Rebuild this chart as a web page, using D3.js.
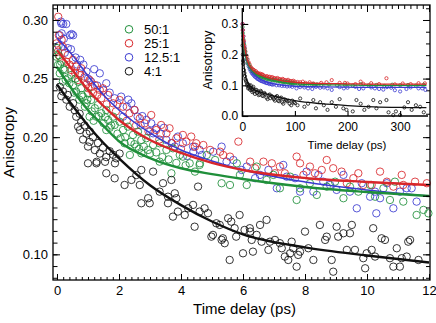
<!DOCTYPE html>
<html>
<head>
<meta charset="utf-8">
<script src="https://cdn.jsdelivr.net/npm/d3@7"></script>
<style>
  body { margin: 0; background: #fff; }
  svg { display: block; font-family: "Liberation Sans", Arial, sans-serif; }
</style>
</head>
<body>
<div id="chart"></div>
<script>
// series names + colours
const seriesNames = ["50:1", "25:1", "12.5:1", "4:1"];
const seriesColors = ["#1f8f3a", "#d8262a", "#3a3ad0", "#111111"];

// main panel, [time (ps), anisotropy]
const green = [[-0.02,0.2687],[0.0,0.276],[0.05,0.27],[0.03,0.2616],[0.14,0.2644],[0.09,0.2545],[0.25,0.2573],[0.35,0.2502],[0.19,0.2474],[0.46,0.2531],[0.52,0.2445],[0.68,0.2474],[0.62,0.2388],[0.78,0.2417],[0.84,0.2346],[1.0,0.2375],[0.95,0.2289],[1.1,0.2317],[1.22,0.2247],[1.32,0.2275],[1.43,0.2204],[1.27,0.2175],[1.59,0.2232],[1.65,0.2147],[1.81,0.2175],[1.86,0.2104],[2.02,0.2132],[2.13,0.2061],[2.29,0.209],[2.45,0.2019],[2.61,0.2047],[2.72,0.1976],[2.88,0.1991],[3.1,0.1933],[3.31,0.1948],[2.56,0.1919],[3.53,0.1891],[3.74,0.1905],[3.96,0.1848],[2.94,0.1891],[2.18,0.1948],[1.59,0.2061],[1.05,0.2175],[2.35,0.1848],[2.72,0.1862],[3.31,0.1791],[3.69,0.1692],[4.06,0.1834],[4.28,0.1777],[4.6,0.1763],[4.45,0.1706],[4.61,0.1777],[4.83,0.1848],[5.1,0.1805],[5.31,0.1607],[5.58,0.1592],[5.8,0.1777],[5.9,0.1678],[6.12,0.1592],[6.44,0.1749],[6.76,0.1635],[6.98,0.1678],[7.19,0.1564],[7.52,0.1663],[7.73,0.1464],[7.84,0.1564],[8.16,0.1607],[8.38,0.1507],[8.7,0.1578],[8.97,0.162],[9.24,0.1479],[9.45,0.1578],[9.72,0.1535],[10.1,0.1592],[10.26,0.1492],[10.53,0.1564],[10.74,0.1464],[10.9,0.162],[11.17,0.145],[11.6,0.1336],[11.82,0.1379],[11.98,0.135],
  [0.1,0.262],[0.2,0.258],[0.28,0.249],[0.4,0.246],[0.55,0.238],[0.6,0.25],[0.72,0.232],[0.8,0.236],[0.9,0.226],[0.98,0.232],[1.12,0.222],[1.18,0.214],[1.35,0.218],[1.5,0.212],[1.55,0.217],[1.7,0.208],[1.75,0.21],[1.95,0.203],[2.05,0.199],[2.2,0.2],[2.38,0.196],[2.5,0.194],[2.65,0.19],[2.8,0.192],[3.0,0.186],[3.2,0.187],[3.4,0.183],[3.6,0.181],[3.85,0.178],[4.15,0.176]];

const red = [[0.04,0.3028],[0.06,0.287],[-0.02,0.28],[0.03,0.273],[0.19,0.2772],[0.09,0.2687],[0.35,0.2701],[0.3,0.2644],[0.52,0.2659],[0.62,0.2602],[0.46,0.2573],[0.78,0.2588],[0.89,0.2516],[0.68,0.2488],[1.05,0.2488],[1.22,0.2445],[1.38,0.2403],[1.48,0.2417],[1.01,0.2417],[1.16,0.2375],[1.65,0.236],[1.43,0.2332],[1.81,0.2289],[2.02,0.2317],[2.13,0.226],[2.34,0.2204],[2.5,0.2232],[2.67,0.2161],[2.83,0.2118],[3.04,0.2189],[3.2,0.2061],[3.36,0.2104],[3.53,0.2033],[3.63,0.2076],[3.85,0.1991],[4.06,0.2019],[4.17,0.1962],[4.33,0.2005],[4.49,0.1948],[4.45,0.1919],[4.72,0.1933],[4.94,0.1891],[5.26,0.1876],[5.36,0.1848],[5.85,0.1962],[5.58,0.1834],[6.23,0.1791],[6.39,0.1735],[6.66,0.1791],[6.93,0.1777],[7.03,0.1692],[7.19,0.1749],[7.35,0.1692],[7.73,0.1834],[7.84,0.1777],[7.95,0.1678],[8.16,0.1749],[8.32,0.1692],[8.54,0.172],[8.7,0.1805],[8.91,0.1735],[9.18,0.1706],[9.35,0.1607],[9.56,0.165],[9.72,0.1692],[9.88,0.1592],[10.15,0.1592],[10.42,0.1706],[10.64,0.162],[10.85,0.1578],[11.12,0.1678],[11.17,0.1592],[11.55,0.162],[11.93,0.1607],
  [0.15,0.283],[0.4,0.262],[0.58,0.255],[0.75,0.253],[0.95,0.245],[1.12,0.243],[1.3,0.236],[1.6,0.228],[1.9,0.222],[2.25,0.214],[2.55,0.21],[2.95,0.205],[3.3,0.198],[3.7,0.195],[4.0,0.19]];

const blue = [[0.13,0.2986],[0.2,0.2966],[0.15,0.2886],[0.42,0.287],[0.47,0.288],[0.14,0.297],[0.3,0.2966],[0.09,0.287],[0.52,0.287],[0.05,0.278],[0.25,0.272],[0.35,0.276],[0.6,0.268],[0.65,0.262],[0.73,0.2545],[0.85,0.262],[0.95,0.256],[1.2,0.258],[1.38,0.2545],[1.1,0.2474],[1.59,0.246],[1.7,0.238],[1.86,0.2332],[2.07,0.2346],[2.25,0.226],[2.4,0.2289],[2.5,0.2232],[2.13,0.2175],[2.6,0.2175],[2.75,0.218],[2.88,0.2147],[3.04,0.2118],[3.2,0.2076],[3.1,0.2033],[3.35,0.203],[3.53,0.1976],[3.9,0.2005],[3.69,0.1948],[4.06,0.1948],[4.2,0.184],[4.39,0.1919],[4.6,0.1891],[4.4,0.1876],[4.67,0.1848],[5.31,0.1919],[5.04,0.1876],[5.47,0.1791],[5.69,0.1805],[5.96,0.172],[6.12,0.1749],[6.39,0.165],[6.55,0.1678],[6.82,0.172],[7.09,0.1564],[7.3,0.1763],[7.41,0.1663],[7.68,0.165],[7.84,0.1535],[8.05,0.1706],[8.27,0.1535],[8.43,0.1678],[8.59,0.162],[8.81,0.1592],[9.02,0.155],[9.24,0.1678],[9.45,0.1535],[9.67,0.1393],[9.83,0.1607],[10.1,0.1492],[10.26,0.1535],[10.3,0.135],[10.42,0.1479],[10.64,0.1607],[10.85,0.1393],[11.06,0.1535],[11.28,0.1564],[11.44,0.1564],[11.6,0.145],
  [0.22,0.284],[0.45,0.275],[0.75,0.266],[1.0,0.25],[1.3,0.244],[1.5,0.24],[1.95,0.228],[2.3,0.232],[2.7,0.21],[3.0,0.205],[3.45,0.208],[3.8,0.192]];

const black = [[0.09,0.243],[0.19,0.239],[0.14,0.235],[0.3,0.232],[0.35,0.236],[0.41,0.226],[0.52,0.229],[0.57,0.223],[0.62,0.2175],[0.73,0.22],[0.78,0.213],[0.68,0.209],[0.89,0.21],[0.95,0.203],[0.84,0.198],[0.74,0.206],[1.06,0.2047],[1.05,0.196],[1.0,0.192],[1.16,0.2],[1.22,0.189],[1.32,0.195],[1.38,0.186],[1.48,0.191],[1.59,0.183],[1.7,0.188],[1.81,0.185],[1.91,0.182],[2.02,0.186],[1.0,0.1777],[1.27,0.1777],[1.28,0.179],[1.55,0.179],[1.87,0.1777],[1.59,0.1692],[1.86,0.1649],[2.18,0.1592],[2.4,0.1635],[2.56,0.1677],[2.72,0.172],[2.67,0.1592],[3.1,0.1706],[3.42,0.1607],[2.72,0.1436],[2.99,0.1436],[2.94,0.1479],[3.31,0.1535],[3.58,0.1492],[3.58,0.1436],[3.69,0.1635],[3.8,0.1521],[3.85,0.1479],[3.74,0.1322],[3.9,0.1365],[4.12,0.1336],[4.23,0.1393],[4.39,0.1422],[4.44,0.1236],[4.55,0.1578],[4.6,0.1365],[4.76,0.1393],[4.87,0.1351],[4.98,0.1151],[5.03,0.1166],[5.14,0.1265],[5.25,0.1251],[5.31,0.1123],[5.35,0.1137],[5.41,0.1095],[5.52,0.1308],[5.57,0.0952],[5.62,0.1279],[5.73,0.1223],[5.78,0.1151],[5.89,0.1336],[6.0,0.1009],[6.05,0.1208],[6.22,0.1223],[6.23,0.1194],[6.28,0.1123],[6.32,0.1023],[6.44,0.1166],[6.55,0.1251],[6.6,0.1108],[6.76,0.1294],[6.82,0.1038],[6.87,0.1108],[7.03,0.1123],[7.19,0.1095],[7.25,0.1052],[7.35,0.0981],[7.46,0.0952],[7.52,0.1009],[7.57,0.1108],[7.62,0.1052],[7.73,0.0895],[7.78,0.0995],[7.84,0.1023],[8.0,0.1194],[8.11,0.1052],[8.27,0.0952],[8.48,0.1251],[8.65,0.1123],[8.7,0.1151],[8.86,0.0952],[8.91,0.0852],[9.02,0.1236],[9.07,0.1151],[9.24,0.118],[9.35,0.1038],[9.45,0.118],[9.51,0.1251],[9.61,0.1038],[9.88,0.0967],[9.94,0.0881],[9.99,0.1009],[10.15,0.1038],[10.2,0.1223],[10.26,0.0981],[10.47,0.1137],[10.58,0.1123],[10.74,0.0967],[10.85,0.0895],[10.96,0.1052],[11.06,0.0895],[11.12,0.0967],[11.28,0.0981],[11.33,0.1108],[11.39,0.1123],[11.66,0.0952]];

// fitted curves (main panel)
const fitTimes = [0, 0.5, 1, 1.5, 2, 3, 4, 5, 6, 8, 10, 12];
const greenFit = [0.2599, 0.2403, 0.2232, 0.2096, 0.1965, 0.1822, 0.1735, 0.1685, 0.1643, 0.1575, 0.1532, 0.1498];
const redFit = [0.2744, 0.2573, 0.2403, 0.2266, 0.2147, 0.1976, 0.1865, 0.178, 0.172, 0.1652, 0.1618, 0.1592];
const blueFit = [0.2846, 0.27, 0.2522, 0.236, 0.2232, 0.2036, 0.189, 0.1797, 0.172, 0.1618, 0.155, 0.1498];
const blackFit = [0.245, 0.227, 0.21, 0.195, 0.182, 0.159, 0.142, 0.128, 0.117, 0.106, 0.099, 0.093];

// inset, long time window
const insetGreen = [[0.5,0.29],[1,0.27],[2,0.25],[3,0.235],[4,0.22],[5,0.21],[6,0.2],[8,0.187],[10,0.175],[12,0.168],[14,0.16],[16,0.153],[18,0.148],[20,0.145],[24,0.14],[28,0.135],[32,0.131],[36,0.128],[40,0.126],[45,0.122],[50,0.12],[55,0.118],[60,0.117],[65,0.115],[70,0.114],[75,0.112],[80,0.111],[85,0.11],[90,0.108],[95,0.107],[100,0.106],[110,0.104],[120,0.103],[135,0.104],[150,0.101],[165,0.103],[180,0.1],[195,0.102],[210,0.099],[225,0.103],[240,0.1],[255,0.101],[270,0.098],[285,0.102],[300,0.1],[315,0.101],[330,0.099],[345,0.102],
  [22,0.142],[26,0.138],[30,0.132],[34,0.13],[38,0.127],[42,0.124],[47,0.121],[52,0.119],[57,0.117],[62,0.116],[67,0.114],[72,0.113],[77,0.111],[82,0.11],[87,0.109],[92,0.108],[97,0.106],[105,0.105],[115,0.104],[128,0.102],[142,0.103]];
const insetRed = [[0.5,0.3],[1,0.28],[2,0.26],[3,0.245],[4,0.23],[5,0.22],[6,0.21],[8,0.195],[10,0.185],[12,0.175],[14,0.168],[16,0.16],[18,0.155],[20,0.152],[24,0.145],[28,0.14],[32,0.137],[36,0.135],[40,0.133],[45,0.128],[50,0.127],[55,0.125],[60,0.123],[65,0.122],[70,0.12],[75,0.118],[80,0.117],[85,0.115],[90,0.114],[95,0.113],[100,0.112],[110,0.11],[120,0.108],[135,0.106],[150,0.108],[170,0.117],[185,0.108],[200,0.106],[215,0.104],[230,0.105],[245,0.107],[260,0.104],[274,0.123],[290,0.103],[305,0.106],[320,0.104],[335,0.107],[347,0.1065],
  [22,0.15],[26,0.146],[30,0.14],[34,0.138],[38,0.136],[42,0.13],[47,0.13],[52,0.128],[57,0.127],[62,0.123],[67,0.124],[72,0.12],[77,0.121],[82,0.117],[87,0.118],[92,0.114],[97,0.115],[105,0.111],[115,0.112],[128,0.11],[160,0.11],[195,0.108],[225,0.112]];
const insetBlue = [[0.5,0.3],[1,0.28],[2,0.26],[3,0.24],[4,0.225],[5,0.212],[6,0.2],[8,0.185],[10,0.172],[12,0.162],[14,0.153],[16,0.146],[18,0.14],[20,0.136],[24,0.128],[28,0.122],[32,0.118],[36,0.114],[40,0.112],[45,0.108],[50,0.106],[55,0.104],[60,0.103],[70,0.1],[80,0.098],[90,0.097],[103,0.09],[110,0.094],[125,0.09],[140,0.095],[155,0.093],[170,0.085],[185,0.094],[200,0.092],[215,0.095],[230,0.09],[245,0.093],[260,0.088],[275,0.094],[290,0.084],[300,0.08],[320,0.093],[335,0.09],[348,0.085],
  [22,0.132],[26,0.126],[30,0.12],[34,0.116],[38,0.113],[42,0.11],[47,0.107],[52,0.104],[57,0.102],[65,0.1],[75,0.098],[85,0.096],[95,0.095],[118,0.093],[133,0.088],[148,0.092],[162,0.09],[193,0.09],[222,0.088],[252,0.09],[268,0.086],[283,0.092],[312,0.088],[342,0.09]];
const insetBlack = [[0.5,0.23],[1,0.2],[1.5,0.18],[2,0.17],[3,0.15],[4,0.14],[5,0.13],[6,0.12],[7,0.115],[8,0.11],[9,0.1],[10,0.105],[12,0.095],[14,0.09],[16,0.1],[18,0.085],[20,0.09],[22,0.08],[25,0.085],[28,0.075],[30,0.08],[33,0.07],[36,0.078],[40,0.065],[43,0.072],[46,0.06],[50,0.068],[53,0.058],[56,0.065],[60,0.055],[64,0.062],[68,0.05],[72,0.058],[76,0.045],[80,0.055],[85,0.048],[90,0.04],[95,0.05],[100,0.042],[105,0.035],[110,0.057],[118,0.03],[125,0.04],[135,0.052],[140,0.025],[148,0.045],[155,0.035],[162,0.02],[170,0.045],[178,0.03],[185,0.055],[192,0.025],[198,0.02],[210,0.015],[217,0.052],[225,0.04],[232,0.02],[240,0.03],[249,0.052],[255,0.025],[262,0.045],[274,0.052],[278,0.012],[287,0.003],[292,0.015],[300,0.003],[308,0.028],[315,0.045],[322,0.02],[330,0.035],[338,0.03],[345,0.012],
  [11,0.09],[13,0.1],[15,0.085],[17,0.092],[19,0.078],[21,0.095],[24,0.072],[27,0.085],[31,0.068],[35,0.082],[38,0.066],[42,0.075],[48,0.055],[52,0.07],[58,0.06],[62,0.05],[66,0.065],[70,0.048],[74,0.06],[78,0.04],[83,0.052],[88,0.05],[93,0.035],[98,0.045]];

const insetTimes = [0, 2, 5, 10, 20, 40, 60, 100, 150, 200, 250, 300, 350];
const insetGreenFit = [0.29, 0.25, 0.21, 0.175, 0.145, 0.125, 0.115, 0.105, 0.102, 0.101, 0.1, 0.1, 0.1];
const insetRedFit = [0.3, 0.26, 0.22, 0.18, 0.15, 0.13, 0.12, 0.11, 0.106, 0.105, 0.104, 0.104, 0.104];
const insetBlueFit = [0.3, 0.26, 0.215, 0.175, 0.14, 0.115, 0.105, 0.097, 0.095, 0.094, 0.093, 0.093, 0.093];
const insetBlackFit = [0.25, 0.19, 0.14, 0.11, 0.09, 0.075, 0.065, 0.05, 0.04, 0.034, 0.03, 0.028, 0.027];

const mainTicksY = [0.10, 0.15, 0.20, 0.25, 0.30];
const mainTicksX = [0, 2, 4, 6, 8, 10, 12];
const insetTicksY = [0, 0.1, 0.2, 0.3];
const insetTicksX = [0, 100, 200, 300];

document.addEventListener("DOMContentLoaded", function() {
    drawChart();
});

function drawChart() {
    const width = 436, height = 323;
    const svg = d3.select("#chart").append("svg")
        .attr("width", width)
        .attr("height", height);

    const left = 53, right = 430, top = 5, bottom = 280;

    const x = d3.scaleLinear().domain([-0.129, 12.032]).range([left, right]);
    const y = d3.scaleLinear().domain([0.0781, 0.3128]).range([bottom, top]);

    // data (open circles), then fits on top
    const sets = [
        { pts: blue, color: seriesColors[2] },
        { pts: red, color: seriesColors[1] },
        { pts: green, color: seriesColors[0] },
        { pts: black, color: seriesColors[3] }
    ];
    sets.forEach(s => {
        svg.append("g").selectAll("circle")
            .data(s.pts)
            .enter().append("circle")
            .attr("cx", d => x(d[0]))
            .attr("cy", d => y(d[1]))
            .attr("r", 3.7)
            .attr("fill", "none")
            .attr("stroke", s.color)
            .attr("stroke-width", 0.85);
    });

    const line = d3.line()
        .x((d, i) => x(fitTimes[i]))
        .y(d => y(d))
        .curve(d3.curveMonotoneX);

    const fits = [
        { v: blueFit, color: seriesColors[2], w: 1.5 },
        { v: greenFit, color: seriesColors[0], w: 2.4 },
        { v: redFit, color: seriesColors[1], w: 2.4 },
        { v: blackFit, color: seriesColors[3], w: 2.4 }
    ];
    fits.forEach(f => {
        svg.append("path")
            .datum(f.v)
            .attr("d", line)
            .attr("fill", "none")
            .attr("stroke", f.color)
            .attr("stroke-width", f.w);
    });

    // frame
    svg.append("rect")
        .attr("x", left).attr("y", top)
        .attr("width", right - left).attr("height", bottom - top)
        .attr("fill", "none")
        .attr("stroke", "#000")
        .attr("stroke-width", 1.3);

    // ticks on all four sides, pointing in
    const minorX = d3.range(0, 12.01, 0.2);
    const minorY = d3.range(0.08, 0.3101, 0.01);

    function addAxis(axis, tx, ty) {
        const g = svg.append("g")
            .attr("transform", `translate(${tx},${ty})`)
            .call(axis);
        g.select(".domain").remove();
        g.selectAll("line").attr("stroke", "#000").attr("stroke-width", 1);
        g.selectAll("text")
            .attr("fill", "#000")
            .style("font-family", "'Liberation Sans', Arial, sans-serif")
            .style("font-size", "13px");
        return g;
    }

    addAxis(d3.axisBottom(x).tickValues(minorX).tickSize(-3).tickFormat(""), 0, bottom);
    addAxis(d3.axisBottom(x).tickValues(mainTicksX).tickSize(-6).tickPadding(6).tickFormat(d3.format("d")), 0, bottom);
    addAxis(d3.axisTop(x).tickValues(minorX).tickSize(-4).tickFormat(""), 0, top);
    addAxis(d3.axisTop(x).tickValues(mainTicksX).tickSize(-7).tickFormat(""), 0, top);
    addAxis(d3.axisLeft(y).tickValues(minorY).tickSize(-4.5).tickFormat(""), left, 0);
    addAxis(d3.axisLeft(y).tickValues(mainTicksY).tickSize(-7).tickPadding(5).tickFormat(d3.format(".2f")), left, 0);
    addAxis(d3.axisRight(y).tickValues(minorY).tickSize(-4).tickFormat(""), right, 0);
    addAxis(d3.axisRight(y).tickValues(mainTicksY).tickSize(-7).tickFormat(""), right, 0);

    svg.append("text")
        .attr("x", (left + right) / 2 + 3)
        .attr("y", 314)
        .attr("text-anchor", "middle")
        .style("font-size", "15px")
        .text("Time delay (ps)");

    svg.append("text")
        .attr("transform", `translate(14,${(top + bottom) / 2}) rotate(-90)`)
        .attr("text-anchor", "middle")
        .style("font-size", "15px")
        .text("Anisotropy");

    // legend
    const legend = svg.append("g");
    seriesNames.forEach((name, i) => {
        const ly = 29.3 + i * 14;
        legend.append("circle")
            .attr("cx", 129).attr("cy", ly).attr("r", 3.8)
            .attr("fill", "none")
            .attr("stroke", seriesColors[i])
            .attr("stroke-width", 1);
        legend.append("text")
            .attr("x", 144).attr("y", ly + 4.6)
            .style("font-size", "13px")
            .text(name);
    });

    drawInset(svg);
}

function drawInset(svg) {
    const il = 242.3, ir = 428, it = 8, ib = 116;
    const ix = d3.scaleLinear().domain([0, 353]).range([il, ir]);
    const iy = d3.scaleLinear().domain([0, 0.352]).range([ib, it]);

    const sets = [
        { pts: insetBlack, color: seriesColors[3] },
        { pts: insetBlue, color: seriesColors[2] },
        { pts: insetRed, color: seriesColors[1] },
        { pts: insetGreen, color: seriesColors[0] }
    ];
    sets.forEach(s => {
        svg.append("g").selectAll("circle")
            .data(s.pts)
            .enter().append("circle")
            .attr("cx", d => ix(d[0]))
            .attr("cy", d => iy(d[1]))
            .attr("r", 1.6)
            .attr("fill", "none")
            .attr("stroke", s.color)
            .attr("stroke-width", 0.8);
    });

    const line = d3.line()
        .x((d, i) => ix(insetTimes[i]))
        .y(d => iy(d))
        .curve(d3.curveMonotoneX);

    [[insetBlackFit, seriesColors[3]], [insetBlueFit, seriesColors[2]],
     [insetGreenFit, seriesColors[0]], [insetRedFit, seriesColors[1]]].forEach(f => {
        svg.append("path")
            .datum(f[0])
            .attr("d", line)
            .attr("fill", "none")
            .attr("stroke", f[1])
            .attr("stroke-width", 1.3);
    });

    // L-shaped axes
    svg.append("path")
        .attr("d", `M${il},${it}V${ib}H${ir}`)
        .attr("fill", "none")
        .attr("stroke", "#000")
        .attr("stroke-width", 1.3);

    const gy = svg.append("g")
        .attr("transform", `translate(${il},0)`)
        .call(d3.axisLeft(iy).tickValues(insetTicksY).tickSize(-6).tickPadding(4).tickFormat(d3.format(".1f")));
    const gx = svg.append("g")
        .attr("transform", `translate(0,${ib})`)
        .call(d3.axisBottom(ix).tickValues(insetTicksX).tickSize(-5).tickPadding(6).tickFormat(d3.format("d")));
    [gx, gy].forEach(g => {
        g.select(".domain").remove();
        g.selectAll("line").attr("stroke", "#000").attr("stroke-width", 1.1);
        g.selectAll("text")
            .attr("fill", "#000")
            .style("font-family", "'Liberation Sans', Arial, sans-serif")
            .style("font-size", "12px");
    });

    svg.append("text")
        .attr("x", 347).attr("y", 149)
        .attr("text-anchor", "middle")
        .style("font-size", "11.5px")
        .text("Time delay (ps)");

    svg.append("text")
        .attr("transform", `translate(212,60) rotate(-90)`)
        .attr("text-anchor", "middle")
        .style("font-size", "12.5px")
        .text("Anisotropy");
}
</script>
</body>
</html>
